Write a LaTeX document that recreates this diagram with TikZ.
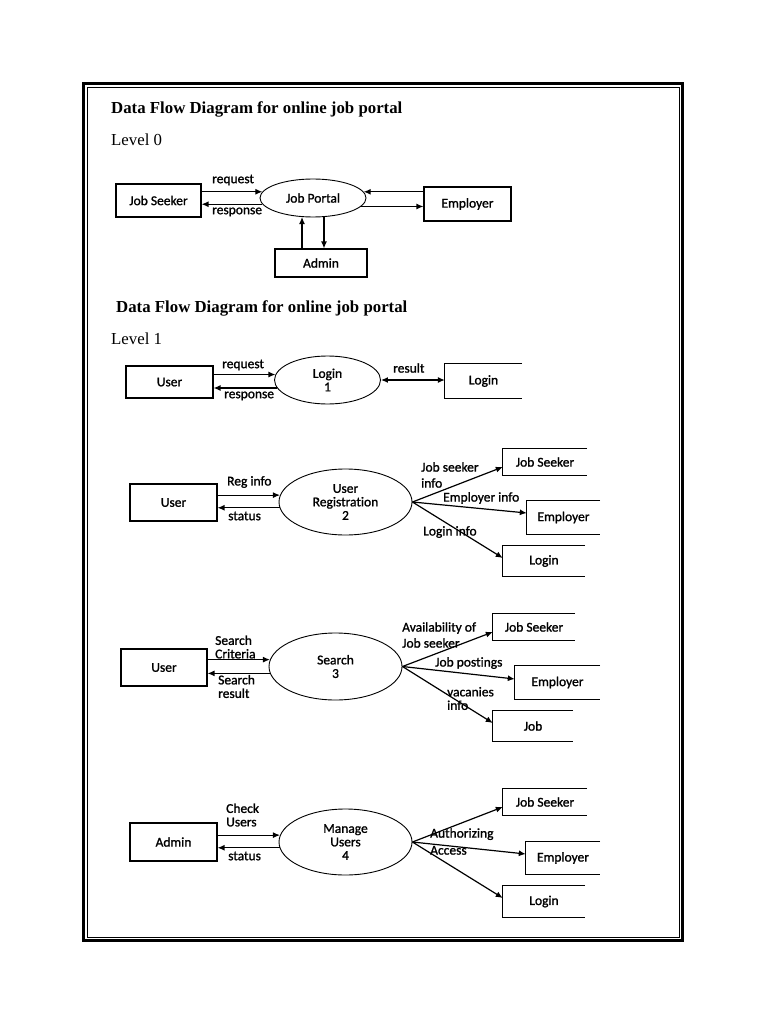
\documentclass[tikz,border=0pt]{standalone}
\usepackage{fontspec}
\setmainfont{Liberation Serif}
\newfontfamily\dfdfont[FakeBold=1.2,Ligatures=NoCommon]{Carlito}
\newcommand{\dfdtext}{\dfdfont\fontsize{13.5}{13.5}\selectfont}
\usetikzlibrary{positioning, calc, arrows.meta, shapes.geometric}

\begin{document}
\begin{tikzpicture}[x=1pt,y=-1pt,
        every node/.style={font=\dfdtext},
        entity/.style={draw,line width=1.1pt,inner sep=0},
        store/.style={inner sep=0},
        process/.style={draw,ellipse,line width=0.9pt,inner sep=0,align=center},
        flow/.style={-{Latex[length=7pt,width=6pt]},line width=1.2pt},
        twoway/.style={{Latex[length=7pt,width=6pt]}-{Latex[length=7pt,width=6pt]},line width=1.2pt},
        lbl/.style={anchor=west,inner sep=0,align=left},
        heading/.style={anchor=base west,inner sep=0,font=\bfseries\fontsize{16.8}{20}\selectfont},
        level/.style={anchor=base west,inner sep=0,font=\fontsize{16.8}{20}\selectfont}]
            \useasboundingbox (0,0) rectangle (768,1024);
            \draw[line width=2.5pt] (83.5,83.5) rectangle (682.5,940.5);
            \draw[line width=1pt] (87.5,87.5) rectangle (679,937);

            \node[heading] (t0) at (111,114) {Data Flow Diagram for online job portal};
            \node[level] (lv0) at (111,146) {Level 0};
            \node[entity,minimum width=85pt,minimum height=33pt] (js0) at (158.5,200.5) {Job Seeker};
            \node[process,minimum width=106pt,minimum height=38pt] (jp0) at (313,198) {Job Portal};
            \node[entity,minimum width=87pt,minimum height=34pt] (em0) at (467.5,204) {Employer};
            \node[entity,minimum width=92pt,minimum height=28pt] (ad0) at (321,263) {Admin};
            \draw[flow] (js0.east |- jp0.173) -- (jp0.173);
            \draw[flow] (jp0.187) -- (js0.east |- jp0.187);
            \draw[flow] (em0.west |- jp0.7) -- (jp0.7);
            \draw[flow] (jp0.350) -- (em0.west |- jp0.350);
            \draw[flow] (ad0.north -| jp0.240) -- (jp0.240);
            \draw[flow] (jp0.300) -- (ad0.north -| jp0.300);
            \node[lbl] (rq0) at (212,180) {request};
            \node[lbl] (rs0) at (212,212) {response};

            \node[heading] (t1) at (116,312) {Data Flow Diagram for online job portal};
            \node[level] (lv1) at (111,344) {Level 1};
            \node[entity,minimum width=87pt,minimum height=32pt] (us1) at (169.5,382) {User};
            \node[process,minimum width=106pt,minimum height=48pt] (lg1) at (327.5,380) {Login\\1};
            \node[store,minimum width=77pt,minimum height=34pt] (ls1) at (483.5,381) {Login};
            \draw[flow] (us1.east |- lg1.174) -- (lg1.174);
            \draw[flow] (lg1.189) -- (us1.east |- lg1.189);
            \draw[twoway] (lg1.east) -- (ls1.west |- lg1.east);
            \node[lbl] (rq1) at (222,365) {request};
            \node[lbl] (rs1) at (224,396) {response};
            \node[lbl] (rt1) at (393,368) {result};

            \node[entity,minimum width=87pt,minimum height=37pt] (us2) at (173.5,502.5) {User};
            \node[process,minimum width=133pt,minimum height=66pt] (rg2) at (345.5,502) {User\\Registration\\2};
            \node[store,minimum width=84pt,minimum height=26pt] (js2) at (545,462) {Job Seeker};
            \node[store,minimum width=73pt,minimum height=33pt] (em2) at (563.5,517.5) {Employer};
            \node[store,minimum width=82pt,minimum height=30pt] (lg2) at (544,561) {Login};
            \draw[flow] (us2.east |- rg2.174) -- (rg2.174);
            \draw[flow] (rg2.185) -- (us2.east |- rg2.185);
            \draw[flow] (rg2.east) -- ([yshift=-5pt]js2.west);
            \draw[flow] (rg2.east) -- ([yshift=4.5pt]em2.west);
            \draw[flow] (rg2.east) -- ([yshift=3pt]lg2.west);
            \node[lbl] (ri2) at (227,482) {Reg info};
            \node[lbl] (st2) at (228,516) {status};
            \node[lbl] (ji2) at (421,475) {Job seeker\\[2.5pt]info};
            \node[lbl] (ei2) at (443,498) {Employer info};
            \node[lbl] (li2) at (423,532) {Login info};

            \node[entity,minimum width=86pt,minimum height=37pt] (us3) at (164,667.5) {User};
            \node[process,minimum width=133pt,minimum height=67pt] (sr3) at (335.5,666.5) {Search\\3};
            \node[store,minimum width=82pt,minimum height=26pt] (js3) at (534,627) {Job Seeker};
            \node[store,minimum width=85pt,minimum height=33pt] (em3) at (557.5,682.5) {Employer};
            \node[store,minimum width=80pt,minimum height=30pt] (jb3) at (533,726) {Job};
            \draw[flow] (us3.east |- sr3.174) -- (sr3.174);
            \draw[flow] (sr3.186) -- (us3.east |- sr3.186);
            \draw[flow] (sr3.east) -- ([yshift=-5pt]js3.west);
            \draw[flow] (sr3.east) -- ([yshift=3.5pt]em3.west);
            \draw[flow] (sr3.east) -- ([yshift=3pt]jb3.west);
            \node[lbl] (sc3) at (215,647) {Search\\Criteria};
            \node[lbl] (sx3) at (218,686.5) {Search\\result};
            \node[lbl] (av3) at (402,635) {Availability of\\[2.5pt]Job seeker};
            \node[lbl] (jp3) at (435,663) {Job postings};
            \node[lbl] (vi3) at (447,698.5) {vacanies\\info};

            \node[entity,minimum width=87pt,minimum height=38pt] (ad4) at (173.5,842) {Admin};
            \node[process,minimum width=133pt,minimum height=66pt] (mu4) at (345.5,842) {Manage\\Users\\4};
            \node[store,minimum width=84pt,minimum height=26pt] (js4) at (545,802) {Job Seeker};
            \node[store,minimum width=74pt,minimum height=32pt] (em4) at (563,858) {Employer};
            \node[store,minimum width=82pt,minimum height=31pt] (lg4) at (544,901.5) {Login};
            \draw[flow] (ad4.east |- mu4.174) -- (mu4.174);
            \draw[flow] (mu4.185) -- (ad4.east |- mu4.185);
            \draw[flow] (mu4.east) -- ([yshift=-5pt]js4.west);
            \draw[flow] (mu4.east) -- ([yshift=4pt]em4.west);
            \draw[flow] (mu4.east) -- ([yshift=3.5pt]lg4.west);
            \node[lbl] (cu4) at (226,815) {Check\\Users};
            \node[lbl] (st4) at (228,856) {status};
            \node[lbl] (aa4) at (430,841.5) {Authorizing\\[3.5pt]Access};

            \foreach \s in {ls1,js2,em2,lg2,js3,em3,jb3,js4,em4,lg4}{
                \draw[line width=1.1pt] (\s.north east)--(\s.north west)--(\s.south west)--(\s.south east);
            }
        \end{tikzpicture}
\end{document}
